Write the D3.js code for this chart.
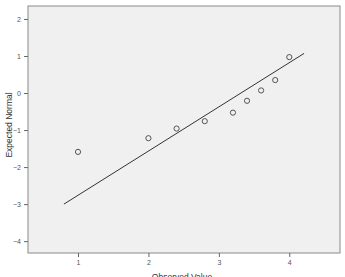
<!DOCTYPE html>
<html>
<head>
<meta charset="utf-8">
<script src="https://cdn.jsdelivr.net/npm/d3@7"></script>
<style>
  body { margin: 0; background: #fff; }
  svg { display: block; font-family: "Liberation Sans", Arial, sans-serif; }
</style>
</head>
<body>
<svg id="plot" width="345" height="277"></svg>
<script>
// observed values and their expected normal scores
const observed = [1, 2, 2.4, 2.8, 3.2, 3.4, 3.6, 3.8, 4];
const expected = [-1.59, -1.22, -0.96, -0.76, -0.53, -0.21, 0.07, 0.35, 0.97];
// reference line end points
const lineX = [0.8, 4.21];
const lineY = [-3.0, 1.07];
const xTicks = [1, 2, 3, 4];
const yTicks = [2, 1, 0, -1, -2, -3, -4];

const svg = d3.select('#plot');
const margin = { top: 6, right: 5, bottom: 24, left: 28 };
const width = +svg.attr('width');
const height = +svg.attr('height');
const innerWidth = width - margin.left - margin.right;
const innerHeight = height - margin.top - margin.bottom;

const xScale = d3.scaleLinear().domain([0.29, 4.72]).range([0, innerWidth]);
const yScale = d3.scaleLinear().domain([-4.32, 2.35]).range([innerHeight, 0]);

const g = svg.append('g')
  .attr('transform', `translate(${margin.left}, ${margin.top})`);

g.append('rect')
  .attr('width', innerWidth)
  .attr('height', innerHeight)
  .attr('fill', '#f0f0f0')
  .attr('stroke', '#8a8a8a')
  .attr('stroke-width', 1);

const axisStyle = AxisG => {
  AxisG.select('.domain').remove();
  AxisG.selectAll('line').attr('stroke', '#666');
  AxisG.selectAll('text')
    .attr('fill', '#555')
    .attr('font-size', 7);
};

g.append('g')
  .attr('transform', `translate(0, ${innerHeight})`)
  .call(d3.axisBottom(xScale).tickValues(xTicks).tickSize(4).tickPadding(3).tickFormat(d3.format('d')))
  .call(axisStyle);

g.append('g')
  .call(d3.axisLeft(yScale).tickValues(yTicks).tickSize(4).tickPadding(3).tickFormat(d3.format('d')))
  .call(axisStyle);

g.append('line')
  .attr('x1', xScale(lineX[0]))
  .attr('y1', yScale(lineY[0]))
  .attr('x2', xScale(lineX[1]))
  .attr('y2', yScale(lineY[1]))
  .attr('stroke', '#333')
  .attr('stroke-width', 1);

g.selectAll('circle').data(observed)
  .enter().append('circle')
    .attr('cx', d => xScale(d))
    .attr('cy', (d, i) => yScale(expected[i]))
    .attr('r', 2.6)
    .attr('fill', 'none')
    .attr('stroke', '#555')
    .attr('stroke-width', 1);

svg.append('text')
  .attr('text-anchor', 'middle')
  .attr('font-size', 8.5)
  .attr('fill', '#333')
  .attr('transform', `translate(12, 125) rotate(-90)`)
  .text('Expected Normal');

svg.append('text')
  .attr('text-anchor', 'middle')
  .attr('font-size', 8.5)
  .attr('fill', '#333')
  .attr('x', 182)
  .attr('y', 280)
  .text('Observed Value');
</script>
</body>
</html>
